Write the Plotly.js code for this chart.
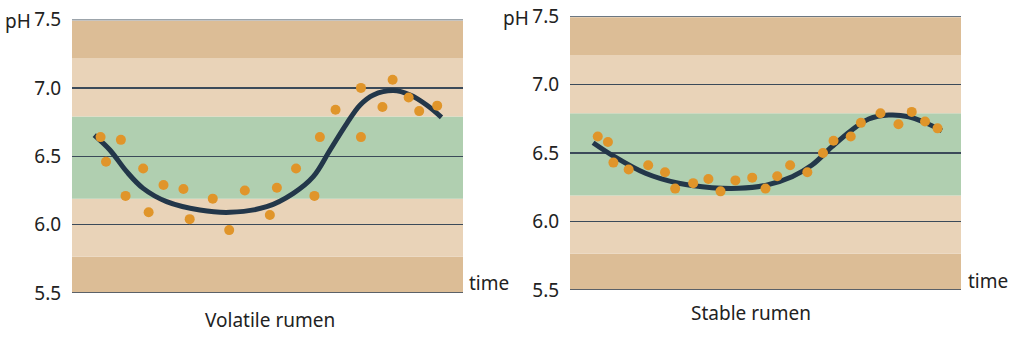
<!DOCTYPE html>
<html>
<head>
<meta charset="utf-8">
<script src="https://cdn.plot.ly/plotly-3.0.1.min.js"></script>
<style>html,body{margin:0;padding:0;background:#fff;}#chart{width:1024px;height:338px;}</style>
</head>
<body>
<div id="chart"></div>
<script>
// Volatile rumen: measured points (time in arbitrary units, pH)
const volTime = [7.3, 8.7, 12.5, 13.7, 18.2, 19.6, 23.4, 28.5, 30.1, 36.0, 40.2, 44.2, 50.6, 52.4, 57.3, 62.0, 63.4, 67.4, 73.9, 73.9, 79.4, 82.0, 86.1, 88.8, 93.4];
const volPH   = [6.64, 6.46, 6.62, 6.21, 6.41, 6.09, 6.29, 6.26, 6.04, 6.19, 5.96, 6.25, 6.07, 6.27, 6.41, 6.21, 6.64, 6.84, 7.00, 6.64, 6.86, 7.06, 6.93, 6.83, 6.87];
// Volatile rumen: trend curve
const volCurveTime = [5.7, 9.7, 14.0, 18.2, 24.2, 32.7, 40.4, 49.8, 56.6, 61.7, 66.0, 70.3, 73.7, 77.1, 82.2, 86.5, 90.7, 94.5];
const volCurvePH   = [6.655, 6.546, 6.387, 6.265, 6.168, 6.107, 6.09, 6.131, 6.229, 6.351, 6.546, 6.741, 6.875, 6.948, 6.98, 6.948, 6.875, 6.785];

// Stable rumen: measured points
const stabTime = [7.1, 9.7, 11.1, 15.0, 20.0, 24.3, 26.9, 31.5, 35.4, 38.5, 42.3, 46.6, 50.0, 53.0, 56.3, 60.7, 64.7, 67.4, 71.8, 74.4, 79.4, 84.0, 87.4, 90.8, 94.0];
const stabPH   = [6.62, 6.58, 6.43, 6.38, 6.41, 6.36, 6.24, 6.28, 6.31, 6.22, 6.30, 6.32, 6.24, 6.33, 6.41, 6.36, 6.50, 6.59, 6.62, 6.72, 6.79, 6.71, 6.80, 6.73, 6.68];
// Stable rumen: trend curve
const stabCurveTime = [5.9, 10.7, 19.3, 27.8, 36.3, 43.1, 50.0, 56.8, 61.9, 67.0, 72.1, 76.4, 81.5, 86.6, 90.9, 95.1];
const stabCurvePH   = [6.575, 6.485, 6.352, 6.279, 6.247, 6.242, 6.264, 6.327, 6.412, 6.546, 6.668, 6.748, 6.777, 6.765, 6.721, 6.663];

// pH zone bands (bottom, top, zone)
const bandLow  = [5.5, 5.765, 6.19, 6.79, 7.215];
const bandHigh = [5.765, 6.19, 6.79, 7.215, 7.49];
const bandZone = ['outer', 'inner', 'optimal', 'inner', 'outer'];

const tickVals = [5.5, 6.0, 6.5, 7.0, 7.5];
const tickText = ['5.5', '6.0', '6.5', '7.0', '7.5'];
const panelTitles = ['Volatile rumen', 'Stable rumen'];

const zoneColor = {outer: '#dcbd96', inner: '#e9d3b8', optimal: '#b0cfb0'};
const lineColor = '#23374a';
const dotColor = '#e0952a';
const FONT = '"Noto Sans", "Open Sans", sans-serif';

function curve(x, y, xa, ya) {
  return {x: x, y: y, xaxis: xa, yaxis: ya, type: 'scatter', mode: 'lines',
    line: {color: lineColor, width: 5, shape: 'spline', smoothing: 1},
    hoverinfo: 'skip', showlegend: false};
}
function dots(x, y, xa, ya) {
  return {x: x, y: y, xaxis: xa, yaxis: ya, type: 'scatter', mode: 'markers',
    marker: {color: dotColor, size: 10, line: {width: 0}},
    hoverinfo: 'skip', showlegend: false};
}

const data = [
  curve(volCurveTime, volCurvePH, 'x', 'y'),
  dots(volTime, volPH, 'x', 'y'),
  curve(stabCurveTime, stabCurvePH, 'x2', 'y2'),
  dots(stabTime, stabPH, 'x2', 'y2')
];

const shapes = [];
[['x', 'y'], ['x2', 'y2']].forEach(function (ax) {
  for (let i = 0; i < bandLow.length; i++) {
    shapes.push({type: 'rect', layer: 'below', xref: ax[0] + ' domain', yref: ax[1],
      x0: 0, x1: 1, y0: bandLow[i], y1: bandHigh[i],
      fillcolor: zoneColor[bandZone[i]], line: {width: 0}});
  }
  // boundary lines at the ends of the pH scale
  shapes.push({type: 'line', layer: 'below', xref: ax[0] + ' domain', yref: ax[1],
    x0: 0, x1: 1, y0: tickVals[tickVals.length - 1], y1: tickVals[tickVals.length - 1],
    line: {color: '#3b4a59', width: 1.5}});
  shapes.push({type: 'line', layer: 'below', xref: ax[0] + ' domain', yref: ax[1],
    x0: 0, x1: 1, y0: tickVals[0], y1: tickVals[0],
    line: {color: '#5b6168', width: 2}});
});

function yAxis(domain, anchor) {
  return {domain: domain, anchor: anchor, range: [5.5, 7.5], fixedrange: true,
    tickvals: tickVals, ticktext: tickText, showgrid: true, gridcolor: '#3b4a59', gridwidth: 1.5,
    zeroline: false, showline: false, ticks: 'outside', ticklen: 6, tickcolor: 'rgba(0,0,0,0)',
    tickfont: {family: FONT, size: 19, color: '#222'}};
}
function xAxis(domain, anchor) {
  return {domain: domain, anchor: anchor, range: [0, 100], fixedrange: true,
    showgrid: false, zeroline: false, showline: false, showticklabels: false, ticks: ''};
}

const txt = function (t, x, y, xanchor, size) {
  return {text: t, xref: 'paper', yref: 'paper', x: x / 1024, y: 1 - y / 338,
    xanchor: xanchor, yanchor: 'middle', showarrow: false,
    font: {family: FONT, size: size, color: '#222'}};
};

const layout = {
  width: 1024, height: 338,
  margin: {l: 0, r: 0, t: 0, b: 0},
  paper_bgcolor: '#ffffff', plot_bgcolor: 'rgba(0,0,0,0)',
  showlegend: false,
  xaxis: xAxis([72 / 1024, 463 / 1024], 'y'),
  yaxis: yAxis([1 - 293 / 338, 1 - 19.5 / 338], 'x'),
  xaxis2: xAxis([570 / 1024, 961 / 1024], 'y2'),
  yaxis2: yAxis([1 - 290 / 338, 1 - 16 / 338], 'x2'),
  shapes: shapes,
  annotations: [
    txt('pH', 3, 21, 'left', 19),
    txt('pH', 501, 18, 'left', 19),
    txt('time', 467, 283, 'left', 19),
    txt('time', 966, 281, 'left', 19),
    txt(panelTitles[0], 270, 320, 'center', 19),
    txt(panelTitles[1], 751, 313, 'center', 19)
  ]
};

Plotly.newPlot('chart', data, layout, {staticPlot: true, displayModeBar: false});
</script>
</body>
</html>
